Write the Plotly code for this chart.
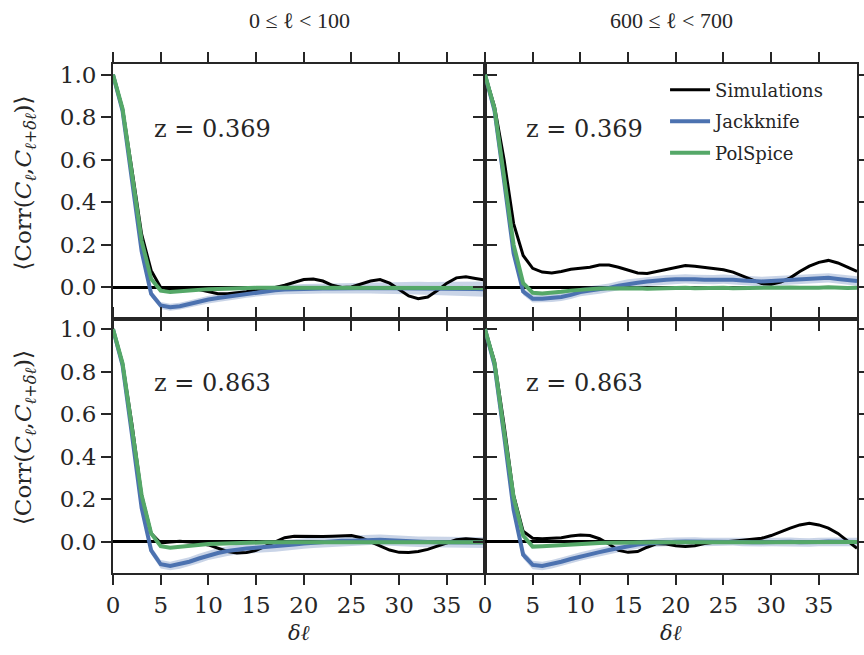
import plotly.graph_objects as go
from plotly.subplots import make_subplots

# ---------------- data ----------------
dl = list(range(40))

panel_titles = ["0 ≤ ℓ < 100", "600 ≤ ℓ < 700"]
redshifts = ["z = 0.369", "z = 0.863"]
x_ticks = [0, 5, 10, 15, 20, 25, 30, 35]
y_ticks = [0.0, 0.2, 0.4, 0.6, 0.8, 1.0]

# top-left: z=0.369, 0<=l<100
sim_tl = [1.0, 0.84, 0.55, 0.25, 0.08, 0.0, -0.01, -0.008, -0.005, -0.01,
          -0.02, -0.03, -0.03, -0.025, -0.02, -0.01, -0.005, 0.0, 0.01, 0.025,
          0.037, 0.04, 0.03, 0.01, 0.0, 0.002, 0.015, 0.03, 0.037, 0.02,
          -0.01, -0.04, -0.053, -0.045, -0.015, 0.02, 0.045, 0.05, 0.042, 0.035]
jk_tl = [1.0, 0.83, 0.5, 0.17, -0.03, -0.085, -0.093, -0.088, -0.078, -0.067,
         -0.057, -0.05, -0.044, -0.036, -0.028, -0.022, -0.017, -0.013, -0.01, -0.008,
         -0.007, -0.006, -0.005, -0.005, -0.004, -0.004, -0.003, -0.002, -0.003, -0.004,
         -0.004, -0.003, -0.003, -0.004, -0.005, -0.006, -0.006, -0.007, -0.007, -0.008]
jk_err_tl = [0.0, 0.01, 0.012, 0.014, 0.015, 0.016, 0.016, 0.016, 0.017, 0.017,
             0.018, 0.018, 0.019, 0.019, 0.02, 0.02, 0.021, 0.021, 0.022, 0.022,
             0.023, 0.023, 0.024, 0.024, 0.025, 0.025, 0.026, 0.026, 0.027, 0.028,
             0.028, 0.029, 0.03, 0.03, 0.031, 0.032, 0.033, 0.034, 0.035, 0.036]
ps_tl = [1.0, 0.84, 0.53, 0.22, 0.04, -0.015, -0.022, -0.018, -0.013, -0.01,
         -0.008, -0.007, -0.005, -0.004, -0.003, -0.002, -0.002, -0.002, -0.003, -0.002,
         -0.002, -0.003, -0.002, -0.002, -0.003, -0.002, -0.002, -0.002, -0.003, -0.002,
         -0.002, -0.003, -0.002, -0.002, -0.003, -0.002, -0.002, -0.003, -0.003, -0.003]

# top-right: z=0.369, 600<=l<700
sim_tr = [1.0, 0.85, 0.6, 0.3, 0.15, 0.09, 0.072, 0.068, 0.075, 0.085,
          0.09, 0.095, 0.105, 0.105, 0.095, 0.08, 0.068, 0.066, 0.075, 0.085,
          0.095, 0.103, 0.1, 0.095, 0.09, 0.083, 0.072, 0.055, 0.035, 0.018,
          0.015, 0.025, 0.045, 0.075, 0.1, 0.118, 0.127, 0.115, 0.095, 0.075]
jk_tr = [1.0, 0.83, 0.5, 0.16, -0.02, -0.053, -0.053, -0.05, -0.045, -0.035,
         -0.022, -0.015, -0.01, -0.002, 0.008, 0.017, 0.022, 0.028, 0.033, 0.036,
         0.038, 0.04, 0.038, 0.036, 0.037, 0.039, 0.036, 0.033, 0.03, 0.028,
         0.03, 0.033, 0.036, 0.038, 0.04, 0.043, 0.045, 0.04, 0.035, 0.03]
jk_err_tr = [0.0, 0.01, 0.012, 0.014, 0.016, 0.018, 0.018, 0.018, 0.019, 0.019,
             0.02, 0.02, 0.02, 0.02, 0.021, 0.021, 0.021, 0.021, 0.022, 0.022,
             0.022, 0.022, 0.022, 0.022, 0.022, 0.022, 0.022, 0.022, 0.022, 0.022,
             0.022, 0.022, 0.022, 0.022, 0.022, 0.022, 0.022, 0.022, 0.022, 0.022]
ps_tr = [1.0, 0.84, 0.52, 0.2, 0.02, -0.025, -0.028, -0.026, -0.02, -0.015,
         -0.01, -0.008, -0.005, -0.004, -0.003, -0.003, -0.004, -0.006, -0.004, -0.002,
         -0.001, -0.002, -0.004, -0.003, -0.001, -0.002, -0.004, -0.003, -0.001, -0.001,
         -0.003, -0.002, 0.0, -0.002, -0.003, -0.001, 0.001, -0.002, -0.003, -0.001]

# bottom-left: z=0.863, 0<=l<100
sim_bl = [1.0, 0.84, 0.55, 0.22, 0.04, -0.005, 0.0, 0.003, 0.0, -0.005,
          -0.014, -0.03, -0.045, -0.052, -0.05, -0.04, -0.02, 0.0, 0.02, 0.027,
          0.026, 0.025, 0.026, 0.027, 0.03, 0.03, 0.02, 0.0, -0.02, -0.038,
          -0.049, -0.05, -0.045, -0.035, -0.02, -0.005, 0.01, 0.015, 0.012, 0.008]
jk_bl = [1.0, 0.83, 0.5, 0.16, -0.04, -0.105, -0.113, -0.105, -0.093, -0.078,
         -0.063, -0.052, -0.043, -0.036, -0.031, -0.027, -0.024, -0.021, -0.017, -0.012,
         -0.007, -0.003, 0.0, 0.003, 0.005, 0.006, 0.008, 0.01, 0.01, 0.008,
         0.005, 0.003, 0.001, 0.0, -0.001, -0.002, -0.002, -0.003, -0.003, -0.003]
jk_err_bl = [0.0, 0.01, 0.012, 0.015, 0.018, 0.02, 0.02, 0.021, 0.021, 0.022,
             0.022, 0.023, 0.023, 0.023, 0.024, 0.024, 0.024, 0.025, 0.025, 0.025,
             0.025, 0.025, 0.025, 0.025, 0.025, 0.025, 0.025, 0.025, 0.025, 0.025,
             0.025, 0.025, 0.025, 0.025, 0.025, 0.025, 0.025, 0.025, 0.025, 0.025]
ps_bl = [1.0, 0.84, 0.53, 0.22, 0.04, -0.02, -0.027, -0.022, -0.017, -0.013,
         -0.01, -0.008, -0.006, -0.004, -0.003, -0.002, -0.002, -0.002, -0.002, -0.002,
         -0.002, -0.002, -0.002, -0.002, -0.002, -0.002, -0.002, -0.002, -0.002, -0.002,
         -0.002, -0.002, -0.002, -0.002, -0.002, -0.002, -0.002, -0.002, -0.002, -0.002]

# bottom-right: z=0.863, 600<=l<700
sim_br = [1.0, 0.85, 0.55, 0.22, 0.05, 0.017, 0.015, 0.016, 0.02, 0.028,
          0.033, 0.03, 0.015, -0.01, -0.04, -0.049, -0.045, -0.025, -0.008, -0.01,
          -0.018, -0.022, -0.018, -0.008, -0.002, 0.0, 0.003, 0.008, 0.013, 0.017,
          0.03, 0.048, 0.065, 0.08, 0.088, 0.08, 0.065, 0.04, 0.005, -0.03]
jk_br = [1.0, 0.83, 0.5, 0.15, -0.06, -0.108, -0.113, -0.105, -0.093, -0.08,
         -0.068, -0.058, -0.048, -0.038, -0.028, -0.019, -0.012, -0.007, -0.003, 0.0,
         0.001, 0.002, 0.002, 0.0, 0.0, 0.002, 0.003, 0.0, -0.002, -0.001,
         0.0, 0.002, 0.001, -0.002, -0.003, 0.0, 0.002, 0.001, 0.0, 0.0]
jk_err_br = [0.0, 0.01, 0.012, 0.015, 0.018, 0.02, 0.02, 0.02, 0.02, 0.02,
             0.02, 0.02, 0.02, 0.02, 0.02, 0.02, 0.02, 0.02, 0.02, 0.02,
             0.02, 0.02, 0.02, 0.02, 0.02, 0.02, 0.02, 0.02, 0.02, 0.02,
             0.02, 0.02, 0.02, 0.02, 0.02, 0.02, 0.02, 0.02, 0.02, 0.02]
ps_br = [1.0, 0.84, 0.52, 0.21, 0.03, -0.022, -0.02, -0.017, -0.013, -0.01,
         -0.008, -0.006, -0.005, -0.004, -0.003, -0.002, -0.002, -0.002, -0.002, -0.002,
         -0.002, -0.002, -0.002, -0.002, -0.002, -0.002, -0.002, -0.002, -0.002, -0.002,
         -0.002, -0.002, -0.002, -0.001, -0.001, -0.001, -0.001, 0.0, 0.0, 0.0]

panels = [
    (1, 1, sim_tl, jk_tl, jk_err_tl, ps_tl, redshifts[0]),
    (1, 2, sim_tr, jk_tr, jk_err_tr, ps_tr, redshifts[0]),
    (2, 1, sim_bl, jk_bl, jk_err_bl, ps_bl, redshifts[1]),
    (2, 2, sim_br, jk_br, jk_err_br, ps_br, redshifts[1]),
]

# ---------------- styles ----------------
FONT = "DejaVu Serif"
TXT = "#262626"
C_SIM = "#000000"
C_JK = "#4C72B0"
C_PS = "#55A868"
C_BAND = "rgba(76,114,176,0.30)"
AXC = "#262626"

fig = make_subplots(rows=2, cols=2, horizontal_spacing=0, vertical_spacing=0)

for (r, c, sim, jk, err, ps, ztxt) in panels:
    show = (r == 1 and c == 2)
    upper = [v + e for v, e in zip(jk, err)]
    lower = [v - e for v, e in zip(jk, err)]
    fig.add_trace(go.Scatter(x=dl + dl[::-1], y=upper + lower[::-1], fill="toself",
                             fillcolor=C_BAND, line=dict(width=0), mode="lines",
                             showlegend=False, hoverinfo="skip"), row=r, col=c)
    fig.add_trace(go.Scatter(x=dl, y=sim, mode="lines", name="Simulations",
                             legendgroup="a", line=dict(color=C_SIM, width=3),
                             showlegend=show), row=r, col=c)
    fig.add_trace(go.Scatter(x=dl, y=jk, mode="lines", name="Jackknife",
                             legendgroup="b", line=dict(color=C_JK, width=4),
                             showlegend=show), row=r, col=c)
    fig.add_trace(go.Scatter(x=dl, y=ps, mode="lines", name="PolSpice",
                             legendgroup="c", line=dict(color=C_PS, width=4),
                             showlegend=show), row=r, col=c)

axis_common = dict(showline=True, linecolor=AXC, linewidth=2, mirror="allticks",
                   ticks="outside", ticklen=10, tickwidth=1.5, tickcolor=AXC,
                   showgrid=False, automargin=False,
                   tickfont=dict(family=FONT, size=23, color=TXT))

for r in (1, 2):
    for c in (1, 2):
        fig.update_xaxes(range=[0, 39], tickvals=x_ticks,
                         showticklabels=(r == 2), zeroline=False,
                         row=r, col=c, **axis_common)
        fig.update_yaxes(range=[-0.146, 1.05], tickvals=y_ticks,
                         tickformat=".1f", showticklabels=(c == 1),
                         zeroline=True, zerolinecolor="#000000", zerolinewidth=2.5,
                         row=r, col=c, **axis_common)

annotations = []
# column titles
for i, t in enumerate(panel_titles):
    annotations.append(dict(text=t, xref="x%s domain" % ("" if i == 0 else "2"),
                            yref="paper", x=0.5, y=1.0, yshift=44, showarrow=False,
                            xanchor="center", yanchor="middle",
                            font=dict(family="Liberation Serif", size=22, color=TXT)))
    # x-axis titles
    annotations.append(dict(text="<i>δℓ</i>", xref="x%s domain" % ("3" if i == 0 else "4"),
                            yref="paper", x=0.5, y=0.0, yshift=-60, showarrow=False,
                            xanchor="center", yanchor="middle",
                            font=dict(family=FONT, size=21, color=TXT)))
# y-axis titles
for yr in ("y", "y3"):
    annotations.append(dict(text="⟨Corr(<i>C</i><sub><i>ℓ</i></sub>,<i>C</i><sub><i>ℓ+δℓ</i></sub>)⟩",
                            xref="paper", yref=yr + " domain", x=0.0, xshift=-88,
                            y=0.53, textangle=-90, showarrow=False,
                            xanchor="center", yanchor="middle",
                            font=dict(family=FONT, size=23, color=TXT)))
# redshift labels
axis_refs = [("x", "y"), ("x2", "y2"), ("x3", "y3"), ("x4", "y4")]
for (xr, yr), p in zip(axis_refs, panels):
    annotations.append(dict(text=p[6], xref=xr + " domain", yref=yr + " domain",
                            x=0.105, y=0.745, xanchor="left", yanchor="middle",
                            showarrow=False,
                            font=dict(family=FONT, size=24, color=TXT)))

fig.update_layout(
    width=864, height=655,
    margin=dict(l=113, r=7, t=64, b=82, autoexpand=False),
    paper_bgcolor="white", plot_bgcolor="white",
    font=dict(family=FONT, color=TXT),
    annotations=annotations,
    legend=dict(x=0.742, y=0.985, xref="paper", yref="paper", xanchor="left", yanchor="top",
                bgcolor="rgba(0,0,0,0)", font=dict(family=FONT, size=18, color=TXT),
                tracegroupgap=5, itemwidth=40),
)

fig.write_html("out.html")
